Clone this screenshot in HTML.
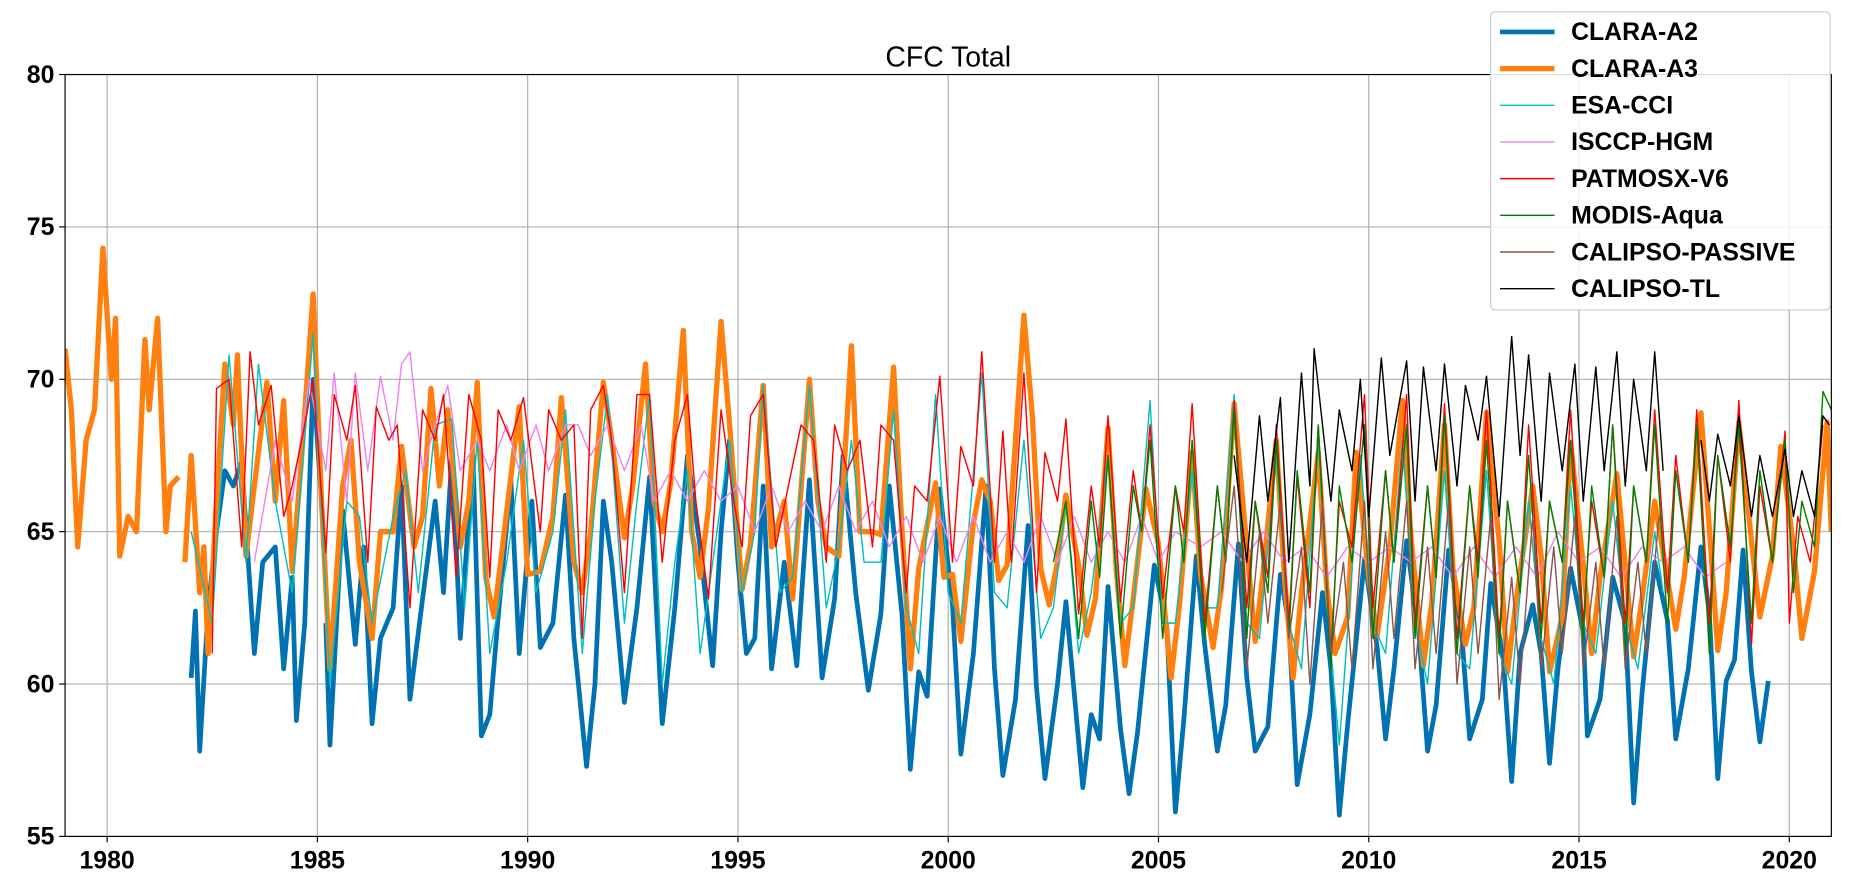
<!DOCTYPE html>
<html><head><meta charset="utf-8">
<style>
html,body{margin:0;padding:0;background:#fff;overflow:hidden;}
svg{display:block;font-family:"Liberation Sans",Arial,sans-serif;}
</style></head>
<body>
<svg id="chart" width="1855" height="877" viewBox="0 0 1568 741.3" preserveAspectRatio="none"></svg>
<script>
const xTicks=[1980,1985,1990,1995,2000,2005,2010,2015,2020];
const yTicks=[55,60,65,70,75,80];
const seriesNames=["CLARA-A2","CLARA-A3","ESA-CCI","ISCCP-HGM","PATMOSX-V6","MODIS-Aqua","CALIPSO-PASSIVE","CALIPSO-TL"];
const a2Years=[1982.0,1982.1,1982.2,1982.4,1982.6,1982.8,1983.0,1983.2,1983.5,1983.7,1984.0,1984.2,1984.4,1984.5,1984.7,1984.9,1985.1,null,1985.2,1985.3,1985.6,1985.9,1986.1,1986.3,1986.5,1986.8,1987.0,1987.2,1987.5,1987.8,1988.0,1988.2,1988.4,1988.7,1988.9,1989.1,1989.3,1989.6,1989.8,1990.1,1990.3,1990.6,1990.9,1991.1,1991.4,1991.6,1991.8,1992.0,1992.3,1992.6,1992.9,1993.2,1993.5,1993.8,1994.1,1994.4,1994.6,1994.8,1995.0,1995.2,1995.4,1995.6,1995.8,1996.1,1996.4,1996.7,1997.0,1997.3,1997.5,1997.8,1998.1,1998.4,1998.6,1998.9,1999.1,1999.3,1999.5,1999.8,2000.1,2000.3,2000.6,2000.9,2001.1,2001.3,2001.6,2001.9,2002.1,2002.3,2002.6,2002.8,2003.2,2003.4,2003.6,2003.8,2004.1,2004.3,2004.5,2004.9,2005.2,2005.4,2005.6,2005.9,2006.1,2006.4,2006.6,2006.9,2007.1,2007.3,2007.6,2007.9,2008.1,2008.3,2008.6,2008.9,2009.1,2009.3,2009.5,2009.9,2010.2,2010.4,2010.6,2010.9,2011.2,2011.4,2011.6,2011.9,2012.2,2012.4,2012.7,2012.9,2013.2,2013.4,2013.6,2013.9,2014.1,2014.3,2014.5,2014.8,2015.1,2015.2,2015.5,2015.8,2016.1,2016.3,2016.5,2016.8,2017.1,2017.3,2017.6,2017.9,2018.1,2018.3,2018.5,2018.7,2018.9,2019.1,2019.3,2019.5];
const a2Values=[60.2,62.4,57.8,62.5,65,67,66.5,67.3,61,64,64.5,60.5,63.5,58.8,62,70,66,null,62,58,65.7,61.3,64.5,58.7,61.5,62.5,66.5,59.5,62.8,66,63,67.5,61.5,67.5,58.3,59,62.2,66.7,61,66,61.2,62,66.2,61.5,57.3,60,66,64,59.4,62.5,66.8,58.7,62.5,67.5,64.5,60.6,65,68,64,61,61.5,66.5,60.5,64,60.6,66.7,60.2,62.8,67.5,63,59.8,62.3,66.5,62.3,57.2,60.4,59.6,66.4,62.6,57.7,61,66.5,60.5,57,59.5,65.2,59.9,56.9,60,62.7,56.6,59,58.2,63.2,58.5,56.4,58.4,63.9,61.9,55.8,58.8,64.2,61.3,57.8,59.3,64.6,60.2,57.8,58.6,63.6,62,56.7,59,63,60.5,55.7,58.7,64.1,61.2,58.2,60.5,64.7,61.5,57.8,59.3,64.4,61.8,58.2,59.5,63.3,60.8,56.8,61,62.6,61,57.4,60.5,63.8,61.7,58.3,59.5,63.5,62,56.1,59.7,64,62.1,58.2,60.5,64.5,62.3,56.9,60.1,60.8,64.4,60.4,58.1,60.1];
const a3Years=[1979.0,1979.15,1979.3,1979.5,1979.7,1979.9,1980.1,1980.2,1980.3,1980.5,1980.7,1980.9,1981.0,1981.2,1981.4,1981.5,1981.7,null,1981.85,1982.0,1982.2,1982.3,1982.4,1982.6,1982.8,1983.0,1983.1,1983.3,1983.5,1983.8,1984.0,1984.2,1984.4,1984.6,1984.9,1985.1,1985.3,1985.6,1985.8,1986.0,1986.3,1986.5,1986.8,1987.0,1987.3,1987.5,1987.7,1987.9,1988.1,1988.4,1988.6,1988.8,1989.0,1989.2,1989.4,1989.8,1990.0,1990.3,1990.6,1990.8,1991.1,1991.3,1991.5,1991.8,1992.0,1992.3,1992.5,1992.8,1993.0,1993.2,1993.4,1993.7,1993.9,1994.1,1994.3,1994.6,1994.8,1995.1,1995.3,1995.6,1995.8,1996.1,1996.3,1996.7,1996.9,1997.1,1997.4,1997.7,1997.9,1998.2,1998.4,1998.7,1998.9,1999.1,1999.3,1999.7,1999.9,2000.1,2000.3,2000.6,2000.8,2001.0,2001.2,2001.4,2001.8,2002.0,2002.2,2002.4,2002.6,2002.8,2003.1,2003.3,2003.5,2003.8,2004.0,2004.2,2004.4,2004.7,2005.0,2005.3,2005.5,2005.8,2006.0,2006.3,2006.5,2006.8,2007.1,2007.3,2007.5,2007.8,2008.0,2008.2,2008.4,2008.8,2009.0,2009.2,2009.5,2009.7,2010.0,2010.2,2010.5,2010.8,2011.0,2011.3,2011.5,2011.8,2012.0,2012.3,2012.5,2012.8,2013.1,2013.3,2013.5,2013.9,2014.1,2014.3,2014.6,2014.8,2015.1,2015.3,2015.5,2015.9,2016.1,2016.3,2016.5,2016.8,2017.0,2017.3,2017.5,2017.9,2018.1,2018.3,2018.5,2018.8,2019.1,2019.3,2019.6,2019.8,2020.1,2020.3,2020.6,2020.9,2021.0];
const a3Values=[71,69,64.5,68,69,74.3,70,72,64.2,65.5,65,71.3,69,72,65,66.5,66.8,null,64,67.5,63,64.5,61,66,70.5,68.5,70.8,64.2,66.5,69.9,66,69.3,63.7,67,72.8,66,60.5,66.5,68,64,61.5,65,65,67.8,64.5,65.5,69.7,66.5,69,64.5,66,69.9,63.5,62.2,64.5,69.1,63.6,63.7,65.5,69.4,64,63,65,69.9,68,64.8,66.5,70.5,66,65,66.6,71.6,65,63.5,65.8,71.9,68.5,63.1,64.6,69.8,64.5,66,62.8,70,66,64.5,64.2,71.1,65,65,64.9,70.4,65.1,60.5,63.8,66.6,63.5,63.6,61.4,65.3,66.7,66,63.4,63.9,72.1,68.8,63.8,62.6,64,66.2,63.9,61.6,62.8,68.4,63.7,60.6,62.8,66.4,64.6,60.2,62.6,67.6,63.6,61.2,63.2,69.2,64.5,61.4,63.8,68,63.4,60.2,63,67.6,63.2,61,62.2,67.6,63.5,61.6,64.5,69.3,64.9,60.6,62.7,68.5,63.8,61.3,62.5,68.9,64.7,60.4,62.7,66.5,64.2,60.4,62.2,67.9,63.9,61,63.5,66.9,63.9,60.9,62.8,66,64.3,61.8,63.5,68.9,65.1,61.1,63,68.6,64.7,62.2,64.2,67.8,64.5,61.5,63.7,68.6,65];
const esaYears=[1982,1982.5,1982.9,1983.3,1983.6,1984.0,1984.4,1984.9,1985.3,1985.7,1986.0,1986.3,1986.8,1987.1,1987.4,1987.8,1988.2,1988.5,1988.8,1989.1,1989.5,1989.9,1990.2,1990.6,1990.9,1991.3,1991.6,1991.9,1992.3,1992.6,1992.9,1993.2,1993.5,1993.8,1994.1,1994.4,1994.8,1995.1,1995.4,1995.6,1996.0,1996.3,1996.7,1997.1,1997.4,1997.7,1998.0,1998.4,1998.7,1999.0,1999.3,1999.7,2000.0,2000.3,2000.8,2001.1,2001.4,2001.8,2002.2,2002.5,2002.8,2003.1,2003.4,2003.8,2004.1,2004.4,2004.8,2005.1,2005.4,2005.8,2006.1,2006.4,2006.8,2007.1,2007.4,2007.8,2008.1,2008.4,2008.8,2009.1,2009.3,2009.8,2010.1,2010.4,2010.8,2011.1,2011.4,2011.8,2012.1,2012.4,2012.8,2013.1,2013.4,2013.8,2014.1,2014.4,2014.8,2015.1,2015.4,2015.8,2016.1,2016.4,2016.8,2017.0];
const esaValues=[65,62,70.8,64,70.5,66,63,71.5,60,66,65.5,62,65.5,67,63,68.5,68.7,62.5,68,61,64,68,63,65,69,61,66,69.5,62,66,69.5,60,64,67,61,64,68,63,65,69.8,63,63.5,69.8,62.5,64.5,68,64,64,69,62.5,61,69.5,63,62,70.2,63,62.5,68,61.5,62.5,66,61,63,67.5,62,62.5,69.3,62,62,67,62.5,62.5,69.5,62,61.5,67.5,62,60.5,68,61,58,67.5,62,61,68,62,60,67,61,60.5,67,61,60,66,61.5,60,66.5,62,61,66,62,60.5,65,63];
const isccpYears=[1983.5,1984.0,1984.4,1984.8,1985.2,1985.4,1985.7,1985.9,1986.2,1986.5,1986.8,1987.0,1987.2,1987.5,1987.8,1988.1,1988.4,1988.8,1989.1,1989.5,1989.8,1990.2,1990.5,1990.9,1991.2,1991.5,1991.9,1992.3,1992.7,1993.0,1993.4,1993.8,1994.2,1994.6,1995.0,1995.4,1995.8,1996.2,1996.6,1997.0,1997.4,1997.8,1998.2,1998.6,1999.0,1999.4,1999.8,2000.2,2000.6,2001.0,2001.4,2001.8,2002.2,2002.6,2003.0,2003.4,2003.8,2004.2,2004.6,2005.0,2005.4,2006,2006.5,2007,2007.5,2008,2008.5,2009,2009.5,2010,2010.5,2011,2011.5,2012,2012.5,2013,2013.5,2014,2014.5,2015,2015.5,2016,2016.5,2017,2017.5,2018,2018.5];
const isccpValues=[64,68,66,70,67,70.2,66,70.2,67,70.1,68,70.5,70.9,67,68.5,69.8,67,68,67,68.5,67,68.5,67,68.5,68.5,67.5,68.5,67,68.5,66,67,66,67,66,66.5,65,66.5,65,66,65,66.5,65,66,64.5,65.5,64,65.5,64,65.5,64,65,64,65.5,64,65.5,64,65,64,65.5,64,65,64.5,65,64,65,64,64.5,63.5,64.5,64,64.5,64,64.5,63.5,64.5,63.5,64.5,63.5,65,64,64.5,63.5,64.5,64,64.5,63.5,64];
const patYears=[1982.5,1982.6,1982.9,1983.2,1983.4,1983.6,1983.9,1984.2,1984.4,1984.7,1984.9,1985.2,1985.4,1985.7,1985.9,1986.2,1986.4,1986.7,1986.9,1987.2,1987.5,1987.8,1988.0,1988.3,1988.6,1988.9,1989.1,1989.3,1989.6,1989.9,1990.3,1990.5,1990.8,1991.1,1991.3,1991.5,1991.8,1992.0,1992.3,1992.6,1992.9,1993.2,1993.5,1993.8,1994.0,1994.3,1994.6,1994.9,1995.1,1995.3,1995.6,1995.9,1996.2,1996.5,1996.8,1997.1,1997.3,1997.6,1997.9,1998.2,1998.4,1998.7,1999.0,1999.2,1999.5,1999.8,2000.1,2000.3,2000.6,2000.8,2001.1,2001.3,2001.5,2001.8,2002.1,2002.3,2002.6,2002.8,2003.1,2003.4,2003.6,2003.8,2004.1,2004.4,2004.6,2004.8,2005.1,2005.4,2005.6,2005.8,2006.1,2006.4,2006.6,2006.8,2007.1,2007.3,2007.6,2007.8,2008.1,2008.3,2008.6,2008.8,2009.1,2009.3,2009.6,2009.9,2010.1,2010.4,2010.6,2010.9,2011.1,2011.4,2011.6,2011.8,2012.1,2012.4,2012.6,2012.8,2013.1,2013.3,2013.6,2013.8,2014.1,2014.3,2014.6,2014.8,2015.1,2015.3,2015.6,2015.8,2016.1,2016.3,2016.6,2016.8,2017.1,2017.3,2017.6,2017.8,2018.1,2018.3,2018.6,2018.8,2019.1,2019.3,2019.6,2019.9,2020.0,2020.2,2020.5,2020.8];
const patValues=[61,69.7,70,64.5,70.9,68.5,69.8,65.5,66.5,68.5,70,64.3,69.5,68,69.8,64,69.1,68,68.5,62.5,69,68,69.5,63.5,69.5,68,63.5,69,68,69.4,65,69,68,68.5,61.5,69,69.8,68,63,69.5,69.5,64,68,69.5,66,62.8,69,66,64.5,68.8,69.5,64.5,66.5,68.5,68,64,68.5,67,68,64.5,68.5,68,63,66.5,66,70.1,64,67.8,66.5,70.9,64,68.3,64,70.2,63,67.6,66,68.7,62.3,66.5,64.5,68.8,62.7,67,65,68.5,62.8,66.5,65,69.2,62,66.5,64,69.3,62.5,66,63.5,68.5,62,66.8,62.5,68.5,61,66,64.5,69.5,62.5,67,64,69.5,62,66.5,63.5,69.2,61.5,66.5,64,69,61.5,66,63,68.5,62,66,64,69,62,66,63.5,68.5,62,66.5,64,69,63,67.5,64,69,62,67.5,64,69.3,61.3,66.5,64,68.3,62,65.5,64,68.5];
const modisYears=[2002.5,2002.8,2003.1,2003.4,2003.6,2003.8,2004.1,2004.4,2004.6,2004.8,2005.1,2005.4,2005.6,2005.8,2006.1,2006.4,2006.6,2006.8,2007.1,2007.3,2007.6,2007.8,2008.1,2008.3,2008.6,2008.8,2009.1,2009.3,2009.6,2009.9,2010.1,2010.4,2010.6,2010.9,2011.1,2011.4,2011.6,2011.8,2012.1,2012.4,2012.6,2012.8,2013.1,2013.3,2013.6,2013.8,2014.1,2014.3,2014.6,2014.8,2015.1,2015.3,2015.6,2015.8,2016.1,2016.3,2016.6,2016.8,2017.1,2017.3,2017.6,2017.8,2018.1,2018.3,2018.6,2018.8,2019.1,2019.3,2019.6,2019.9,2020.1,2020.3,2020.6,2020.8,2021.0];
const modisValues=[64,66,61.5,66,63.5,67.5,61.5,66.5,65,68,61.5,66.5,64,68,61.5,66.5,64,69,61.5,66,63,68,61.5,67,63,68.5,60.5,66.5,64,68.5,61.5,67,64,68.5,61.5,66.5,63.5,68.8,61,66.5,63.5,68,61,66,63,67.5,61.5,66,64,68,61.5,66.5,63.5,68.5,61,66.5,64,68.5,62,67,64,68.5,61,67.5,64.5,68.5,62,67,64,68,63,66,64.5,69.6,69];
const calpYears=[2006.5,2006.8,2007.1,2007.4,2007.6,2007.9,2008.1,2008.4,2008.6,2008.9,2009.1,2009.4,2009.6,2009.9,2010.1,2010.4,2010.6,2010.9,2011.1,2011.4,2011.6,2011.9,2012.1,2012.4,2012.6,2012.9,2013.1,2013.4,2013.6,2013.9,2014.1,2014.4,2014.6,2014.9,2015.1,2015.4,2015.6,2015.9,2016.1,2016.4,2016.6,2016.9];
const calpValues=[63,66.5,60.5,65,62,66,61.5,64.5,60,66,61,64,60.5,66,60.5,65,61.5,66,60.5,64.5,61,66,60,64.5,61,65.5,59.5,63.5,60,65.5,60.5,64.5,61,65.5,60.5,64,60.5,65.5,60.5,64,61,65.5];
const caltYears=[2006.8,2007.1,2007.4,2007.6,2007.9,2008.1,2008.4,2008.6,2008.7,2009.1,2009.3,2009.6,2009.8,2010.0,2010.3,2010.5,2010.9,2011.1,2011.3,2011.6,2011.8,2012.1,2012.3,2012.6,2012.8,2013.1,2013.4,2013.6,2013.8,2014.1,2014.3,2014.6,2014.9,2015.1,2015.4,2015.6,2015.9,2016.1,2016.3,2016.6,2016.8,2017.0,null,2017.9,2018.1,2018.3,2018.6,2018.8,2019.1,2019.3,2019.6,2019.9,2020.1,2020.3,2020.6,2020.8,2020.95];
const caltValues=[67.5,64,68.8,66,69.4,64,70.2,66.5,71,66,69,67,70,65.5,70.7,67.5,70.6,66,70.4,67,70.5,66.5,69.8,68,70.1,65.5,71.4,67.5,70.8,66,70.2,67,70.5,66,70.4,67,70.9,66.5,70,67,70.9,67,null,68,66,68.2,66.5,68.8,65.5,67.5,65.5,67.7,65.5,67,65.5,68.8,68.5];

const seriesYears=[a2Years,a3Years,esaYears,isccpYears,patYears,modisYears,calpYears,caltYears];
const seriesValues=[a2Values,a3Values,esaValues,isccpValues,patValues,modisValues,calpValues,caltValues];
const colors=["#0072b2","#ff800e","#00bfbf","#ee82ee","#ff0000","#008000","#8c564b","#000000"];
const widths=[4,4.5,1.2,1.2,1.2,1.2,1.2,1.2];

const L=55,R=1548,T=63,B=707,X0=1979,X1=2021,Y0=55,Y1=80;
const sx=v=>L+(v-X0)/(X1-X0)*(R-L);
const sy=v=>B-(v-Y0)/(Y1-Y0)*(B-T);
const NS="http://www.w3.org/2000/svg";
const svg=document.getElementById('chart');
function mk(tag,attrs,parent){const e=document.createElementNS(NS,tag);for(const k in attrs)e.setAttribute(k,attrs[k]);(parent||svg).appendChild(e);return e;}

const grid=mk('g',{});


xTicks.forEach(t=>{
  const l=mk('line',{x1:sx(t),x2:sx(t),y1:T,y2:B,stroke:'#b0b0b0','stroke-width':1},grid);
  
  
  const tk=mk('line',{x1:sx(t),x2:sx(t),y1:B,y2:B+5,stroke:'#000','stroke-width':1});
  
  
  const tx=mk('text',{x:sx(t),y:B+27,'text-anchor':'middle','font-size':21,'font-weight':'bold',fill:'#000'});
  tx.textContent=t;
  
  
});
yTicks.forEach(t=>{
  const l=mk('line',{x1:L,x2:R,y1:sy(t),y2:sy(t),stroke:'#b0b0b0','stroke-width':1},grid);
  
  
  const tk=mk('line',{x1:L-5,x2:L,y1:sy(t),y2:sy(t),stroke:'#000','stroke-width':1});
  
  
  const tx=mk('text',{x:L-9,y:sy(t)+7,'text-anchor':'end','font-size':21,'font-weight':'bold',fill:'#000'});
  tx.textContent=t;
  
  
});

const cp=mk('clipPath',{id:'clip'});
mk('rect',{x:L,y:T,width:R-L,height:B-T},cp);

seriesNames.forEach((name,i)=>{
  const ys=seriesYears[i],vs=seriesValues[i];
  let d='',pen=false;
  for(let j=0;j<ys.length;j++){
    if(ys[j]===null||vs[j]===null){pen=false;continue;}
    d+=(pen?'L':'M')+sx(ys[j]).toFixed(1)+','+sy(vs[j]).toFixed(1);
    pen=true;
  }
  const p=mk('path',{d:d,fill:'none',stroke:colors[i],'stroke-width':widths[i],'stroke-linejoin':'round','clip-path':'url(#clip)'});
  
  
});

const frame=mk('rect',{x:L,y:T,width:R-L,height:B-T,fill:'none',stroke:'#000','stroke-width':1});



const title=mk('text',{x:(L+R)/2,y:56,'text-anchor':'middle','font-size':24,fill:'#000'});
title.textContent='CFC Total';



const leg=mk('g',{});


mk('rect',{x:1260,y:10,width:287,height:252,rx:4,fill:'#fff','fill-opacity':0.85,stroke:'#ccc','stroke-width':1},leg);
seriesNames.forEach((name,i)=>{
  const y=27+i*31;
  const e=mk('g',{},leg);
  
  
  mk('line',{x1:1268,x2:1314,y1:y,y2:y,stroke:colors[i],'stroke-width':widths[i]},e);
  const t=mk('text',{x:1328,y:y+7,'font-size':21,'font-weight':'bold',fill:'#000'},e);
  t.textContent=name;
});
</script>
</body></html>
